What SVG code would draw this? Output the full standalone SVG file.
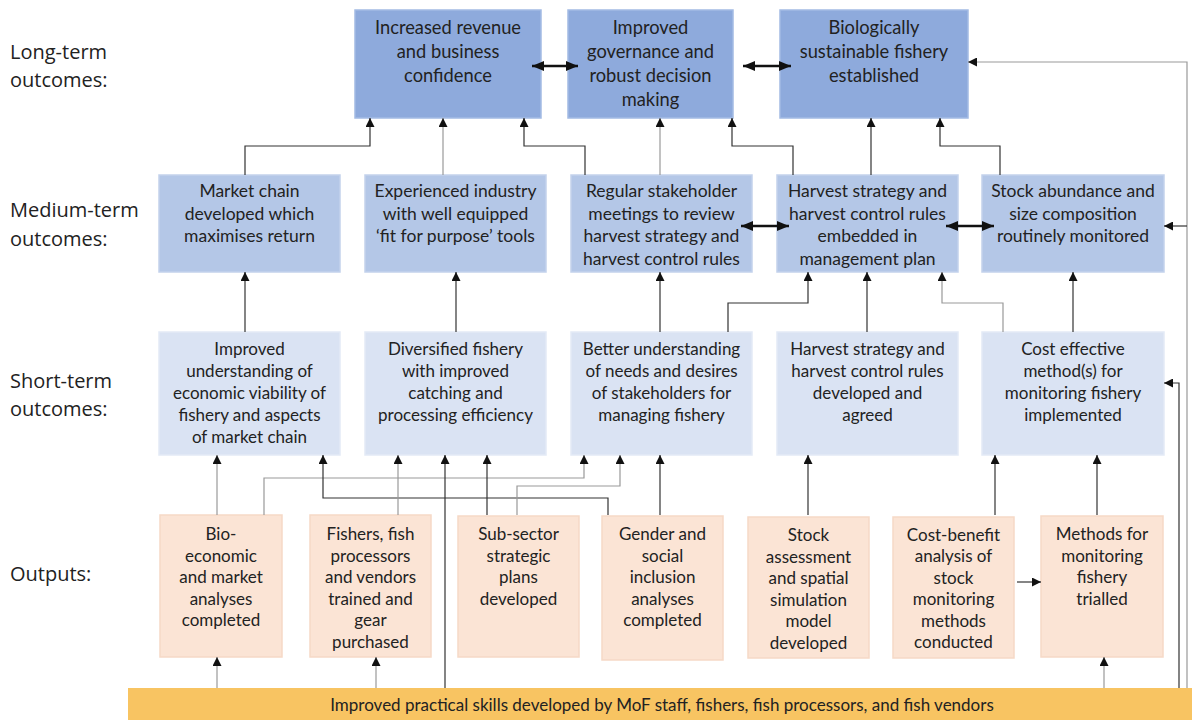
<svg xmlns="http://www.w3.org/2000/svg" width="1192" height="720" viewBox="0 0 1192 720">
<defs>
<marker id="ah" viewBox="0 0 10 10" refX="10" refY="5" markerWidth="9" markerHeight="9" markerUnits="userSpaceOnUse" orient="auto-start-reverse">
<path d="M0,0 L10,5 L0,10 z" fill="#111"/>
</marker>
<marker id="ahb" viewBox="0 0 12 10" refX="12" refY="5" markerWidth="12" markerHeight="10" markerUnits="userSpaceOnUse" orient="auto-start-reverse">
<path d="M0,0 L12,5 L0,10 z" fill="#111"/>
</marker>
</defs>
<style>
.lbl{font-family:"Open Sans","Liberation Sans",sans-serif;font-size:20px;fill:#222}
.t{font-family:Lato,"Open Sans",sans-serif;font-size:17px;fill:#222;text-anchor:middle}
.t18{font-size:18.3px}
.t175{font-size:17.5px}
.lt{fill:#8EAADC;stroke:#A3BBE4;stroke-width:1.5}
.md{fill:#B4C7E7;stroke:#C3D2EC;stroke-width:1.5}
.st{fill:#DAE3F3;stroke:#E3EAF6;stroke-width:1.5}
.op{fill:#FBE4D5;stroke:#F6D9C6;stroke-width:1.5}
.c{fill:none;stroke:#333;stroke-width:1.2;marker-end:url(#ah)}
.g{stroke:#999}
.d{fill:none;stroke:#111;stroke-width:2.5;marker-start:url(#ahb);marker-end:url(#ahb)}
</style>
<rect width="1192" height="720" fill="#fff"/>

<g id="labels">
<text class="lbl" x="10" y="59">Long-term</text>
<text class="lbl" x="10" y="87">outcomes:</text>
<text class="lbl" x="10" y="217">Medium-term</text>
<text class="lbl" x="10" y="246">outcomes:</text>
<text class="lbl" x="10" y="388">Short-term</text>
<text class="lbl" x="10" y="416">outcomes:</text>
<text class="lbl" x="10" y="581">Outputs:</text>
</g>

<g id="lt1"><rect class="lt" x="355" y="10" width="186" height="108"/>
<text class="t t18" x="448" y="34">Increased revenue</text><text class="t t18" x="448" y="58">and business</text><text class="t t18" x="448" y="82">confidence</text></g>
<g id="lt2"><rect class="lt" x="568" y="10" width="165" height="108"/>
<text class="t t18" x="650.5" y="34">Improved</text><text class="t t18" x="650.5" y="58">governance and</text><text class="t t18" x="650.5" y="82">robust decision</text><text class="t t18" x="650.5" y="106">making</text></g>
<g id="lt3"><rect class="lt" x="780" y="10" width="188" height="108"/>
<text class="t t18" x="874" y="34">Biologically</text><text class="t t18" x="874" y="58">sustainable fishery</text><text class="t t18" x="874" y="82">established</text></g>

<g id="m1"><rect class="md" x="159" y="175" width="181" height="97"/>
<text class="t t175" x="249.5" y="197">Market chain</text><text class="t t175" x="249.5" y="219.5">developed which</text><text class="t t175" x="249.5" y="242">maximises return</text></g>
<g id="m2"><rect class="md" x="365" y="175" width="181" height="97"/>
<text class="t t175" x="455.5" y="197">Experienced industry</text><text class="t t175" x="455.5" y="219.5">with well equipped</text><text class="t t175" x="455.5" y="242">‘fit for purpose’ tools</text></g>
<g id="m3"><rect class="md" x="571" y="175" width="181" height="97"/>
<text class="t t175" x="661.5" y="197">Regular stakeholder</text><text class="t t175" x="661.5" y="219.5">meetings to review</text><text class="t t175" x="661.5" y="242">harvest strategy and</text><text class="t t175" x="661.5" y="264.5">harvest control rules</text></g>
<g id="m4"><rect class="md" x="777" y="175" width="181" height="97"/>
<text class="t t175" x="867.5" y="197">Harvest strategy and</text><text class="t t175" x="867.5" y="219.5">harvest control rules</text><text class="t t175" x="867.5" y="242">embedded in</text><text class="t t175" x="867.5" y="264.5">management plan</text></g>
<g id="m5"><rect class="md" x="982" y="175" width="182" height="97"/>
<text class="t t175" x="1073" y="197">Stock abundance and</text><text class="t t175" x="1073" y="219.5">size composition</text><text class="t t175" x="1073" y="242">routinely monitored</text></g>

<g id="s1"><rect class="st" x="159" y="332" width="181" height="123"/>
<text class="t" x="249.5" y="355">Improved</text><text class="t" x="249.5" y="377">understanding of</text><text class="t" x="249.5" y="399">economic viability of</text><text class="t" x="249.5" y="421">fishery and aspects</text><text class="t" x="249.5" y="443">of market chain</text></g>
<g id="s2"><rect class="st" x="365" y="332" width="181" height="123"/>
<text class="t" x="455.5" y="355">Diversified fishery</text><text class="t" x="455.5" y="377">with improved</text><text class="t" x="455.5" y="399">catching and</text><text class="t" x="455.5" y="421">processing efficiency</text></g>
<g id="s3"><rect class="st" x="571" y="332" width="181" height="123"/>
<text class="t" x="661.5" y="355">Better understanding</text><text class="t" x="661.5" y="377">of needs and desires</text><text class="t" x="661.5" y="399">of stakeholders for</text><text class="t" x="661.5" y="421">managing fishery</text></g>
<g id="s4"><rect class="st" x="777" y="332" width="181" height="123"/>
<text class="t" x="867.5" y="355">Harvest strategy and</text><text class="t" x="867.5" y="377">harvest control rules</text><text class="t" x="867.5" y="399">developed and</text><text class="t" x="867.5" y="421">agreed</text></g>
<g id="s5"><rect class="st" x="982" y="332" width="182" height="123"/>
<text class="t" x="1073" y="355">Cost effective</text><text class="t" x="1073" y="377">method(s) for</text><text class="t" x="1073" y="399">monitoring fishery</text><text class="t" x="1073" y="421">implemented</text></g>

<g id="o1"><rect class="op" x="160" y="515" width="122" height="142"/>
<text class="t" x="221" y="540">Bio-</text><text class="t" x="221" y="561.5">economic</text><text class="t" x="221" y="583">and market</text><text class="t" x="221" y="604.5">analyses</text><text class="t" x="221" y="626">completed</text></g>
<g id="o2"><rect class="op" x="310" y="515" width="121" height="142"/>
<text class="t" x="370.5" y="540">Fishers, fish</text><text class="t" x="370.5" y="561.5">processors</text><text class="t" x="370.5" y="583">and vendors</text><text class="t" x="370.5" y="604.5">trained and</text><text class="t" x="370.5" y="626">gear</text><text class="t" x="370.5" y="647.5">purchased</text></g>
<g id="o3"><rect class="op" x="458" y="516" width="121" height="141"/>
<text class="t" x="518.5" y="540">Sub-sector</text><text class="t" x="518.5" y="561.5">strategic</text><text class="t" x="518.5" y="583">plans</text><text class="t" x="518.5" y="604.5">developed</text></g>
<g id="o4"><rect class="op" x="602" y="516" width="121" height="144"/>
<text class="t" x="662.5" y="540">Gender and</text><text class="t" x="662.5" y="561.5">social</text><text class="t" x="662.5" y="583">inclusion</text><text class="t" x="662.5" y="604.5">analyses</text><text class="t" x="662.5" y="626">completed</text></g>
<g id="o5"><rect class="op" x="748" y="517" width="121" height="141"/>
<text class="t" x="808.5" y="541">Stock</text><text class="t" x="808.5" y="562.5">assessment</text><text class="t" x="808.5" y="584">and spatial</text><text class="t" x="808.5" y="605.5">simulation</text><text class="t" x="808.5" y="627">model</text><text class="t" x="808.5" y="648.5">developed</text></g>
<g id="o6"><rect class="op" x="893" y="517" width="121" height="141"/>
<text class="t" x="953.5" y="540.5">Cost-benefit</text><text class="t" x="953.5" y="562">analysis of</text><text class="t" x="953.5" y="583.5">stock</text><text class="t" x="953.5" y="605">monitoring</text><text class="t" x="953.5" y="626.5">methods</text><text class="t" x="953.5" y="648">conducted</text></g>
<g id="o7"><rect class="op" x="1041" y="516" width="122" height="141"/>
<text class="t" x="1102" y="540">Methods for</text><text class="t" x="1102" y="561.5">monitoring</text><text class="t" x="1102" y="583">fishery</text><text class="t" x="1102" y="604.5">trialled</text></g>

<g id="bar"><rect x="128" y="688" width="1064" height="32" fill="#F8C462"/>
<text class="t" x="662" y="711">Improved practical skills developed by MoF staff, fishers, fish processors, and fish vendors</text></g>

<g id="connectors">
<path class="c" d="M245,175 V146 H370 V118"/>
<path class="c g" d="M443,175 V118"/>
<path class="c" d="M585,175 V146 H524 V118"/>
<path class="c g" d="M660,175 V118"/>
<path class="c" d="M793,175 V146 H732 V118"/>
<path class="c" d="M871,175 V118"/>
<path class="c" d="M1000,175 V146 H940 V118"/>
<path class="c g" d="M1187,688 V62 H968"/>
<path class="c" d="M1187,226 H1164"/>
<path class="d" d="M532,66 H578"/>
<path class="d" d="M743,66 H791"/>

<path class="c" d="M245,332 V272"/>
<path class="c" d="M456,332 V272"/>
<path class="c" d="M660,332 V272"/>
<path class="c" d="M728,332 V303 H808 V272"/>
<path class="c" d="M867,332 V272"/>
<path class="c g" d="M1003,332 V303 H942 V272"/>
<path class="c" d="M1073,332 V272"/>
<path class="d" d="M741,226 H789"/>
<path class="d" d="M946,226 H994"/>

<path class="c g" d="M217,515 V455"/>
<path class="c g" d="M264,515 V478 H584 V455"/>
<path class="c" d="M608,515 V498 H323 V455"/>
<path class="c g" d="M398,515 V455"/>
<path class="c" d="M445,688 V455"/>
<path class="c" d="M487,515 V455"/>
<path class="c g" d="M517,515 V486 H620 V455"/>
<path class="c" d="M660,515 V455"/>
<path class="c" d="M808,515 V455"/>
<path class="c" d="M995,515 V455"/>
<path class="c" d="M1097,515 V455"/>
<path class="c" d="M1179,688 V383 H1164"/>

<path class="c g" d="M217,688 V657"/>
<path class="c g" d="M376,688 V657"/>
<path class="c g" d="M1104,688 V657"/>
<path class="c" d="M1017,582 H1041"/>
</g>
</svg>
